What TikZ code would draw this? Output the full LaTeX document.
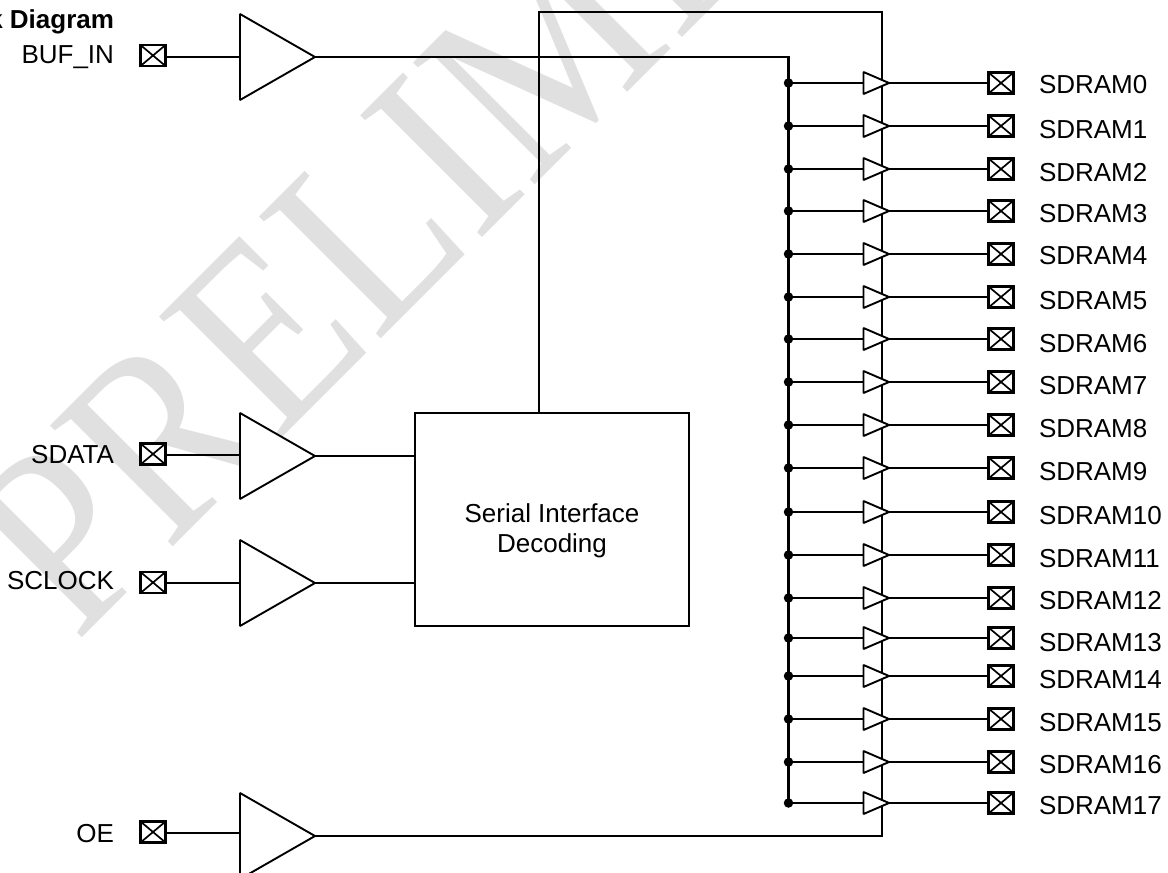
\documentclass[tikz,border=0pt]{standalone}
\usepackage{fontspec}
\setmainfont{Liberation Sans}
\newfontfamily\wmfont{Liberation Serif}
\usetikzlibrary{shapes.geometric}
\definecolor{wmgray}{HTML}{E0E0E0}
\tikzset{
  wire/.style={line width=2pt,line cap=butt,line join=miter},
  amp/.style={isosceles triangle,isosceles triangle stretches,shape border rotate=0,draw,fill=white,line width=1.9pt,inner sep=0pt,outer sep=0pt,minimum height=75pt,minimum width=86pt,anchor=apex,miter limit=1},
  bufs/.style={amp,minimum height=25.5pt,minimum width=22pt},
  pad/.style={rectangle,draw,fill=white,line width=2.1pt,inner sep=0pt,outer sep=0pt,minimum width=25pt,minimum height=21pt,
    path picture={\draw[line width=1.7pt] (path picture bounding box.north west)--(path picture bounding box.south east)
      (path picture bounding box.north east)--(path picture bounding box.south west);}},
  lab/.style={font=\fontsize{26}{28}\selectfont,inner sep=0pt,outer sep=0pt},
  labr/.style={lab,anchor=base east},
  labl/.style={lab,anchor=base west},
  junction/.style={circle,fill=black,inner sep=0pt,outer sep=0pt,minimum size=9.5pt},
  decoder/.style={rectangle,draw,fill=white,line width=1.9pt,inner sep=0pt,outer sep=0pt,minimum width=274.5pt,minimum height=213pt},
  watermark/.style={transform shape,anchor=base west,inner sep=0pt,outer sep=0pt,text=wmgray,font=\wmfont\fontsize{263}{263}\selectfont}
}
\begin{document}
\begin{tikzpicture}[x=1pt,y=-1pt]
\useasboundingbox (0,0) rectangle (1168,873);
\clip (0,0) rectangle (1168,873);
\fill[white] (0,0) rectangle (1168,873);
\begin{scope}[cm={.622,.622,-.707,.707,(76.5,643.5)}]
\node[watermark] (wm) at (0,0) {PRELIMINARY};
\end{scope}
% title
\node[labr,font=\bfseries\fontsize{26}{28}\selectfont] (title) at (114,28) {Block Diagram};
% input stage
\node[amp] (abuf) at (315,57) {};
\node[amp] (adata) at (315,456) {};
\node[amp] (aclk) at (315,583) {};
\node[amp] (aoe) at (315,836) {};
\node[decoder] (dec) at (552,519.5) {};
\node[lab,align=center,font=\fontsize{26}{30}\selectfont,anchor=base] (dectxt) at (552,552) {Serial Interface\\Decoding};
\foreach \n/\y/\ly/\b/\t in {buf/55.5/57/63/BUF\_IN,data/454/455/463/SDATA,clk/582.5/583/589/SCLOCK,oe/832/833/842/OE}{
  \node[pad] (p\n) at (153,\y) {};
  \node[labr] (l\n) at (114,\b) {\t};
  \draw[wire] (p\n.east |- 0,\ly) -- (a\n.west |- 0,\ly);
}
\draw[wire] (adata.apex) -- (adata.apex -| dec.west);
\draw[wire] (aclk.apex) -- (aclk.apex -| dec.west);
% control and clock routing
\coordinate (ctlt) at (539,12);
\coordinate (ctlr) at (882,12);
\coordinate (busc) at (788.5,57);
\draw[wire] (ctlt |- dec.north) -- (ctlt) -- (ctlr) -- (ctlr |- aoe.apex) -- (aoe.apex);
\draw[wire,line width=2.3pt] (abuf.apex) -- (busc) -- (busc |- 0,803);
% outputs
\foreach \i/\y/\b in {0/83/93,1/126/138,2/169/181,3/211/222,4/254/264,5/297/309,6/339/352,7/382/394,8/425/437,9/468/480,10/512/524,11/555/567,12/598/609,13/638/651,14/676/688,15/719/731,16/762/773,17/803/814}{
  \node[junction] (j\i) at (788.5,\y) {};
  \node[bufs] (b\i) at (889,\y) {};
  \node[pad] (o\i) at (1001,\y) {};
  \node[labl] (s\i) at (1039,\b) {SDRAM\i};
  \draw[wire] (j\i) -- (b\i.west |- j\i);
  \draw[wire] (b\i.apex) -- (o\i.west);
}
\end{tikzpicture}
\end{document}
